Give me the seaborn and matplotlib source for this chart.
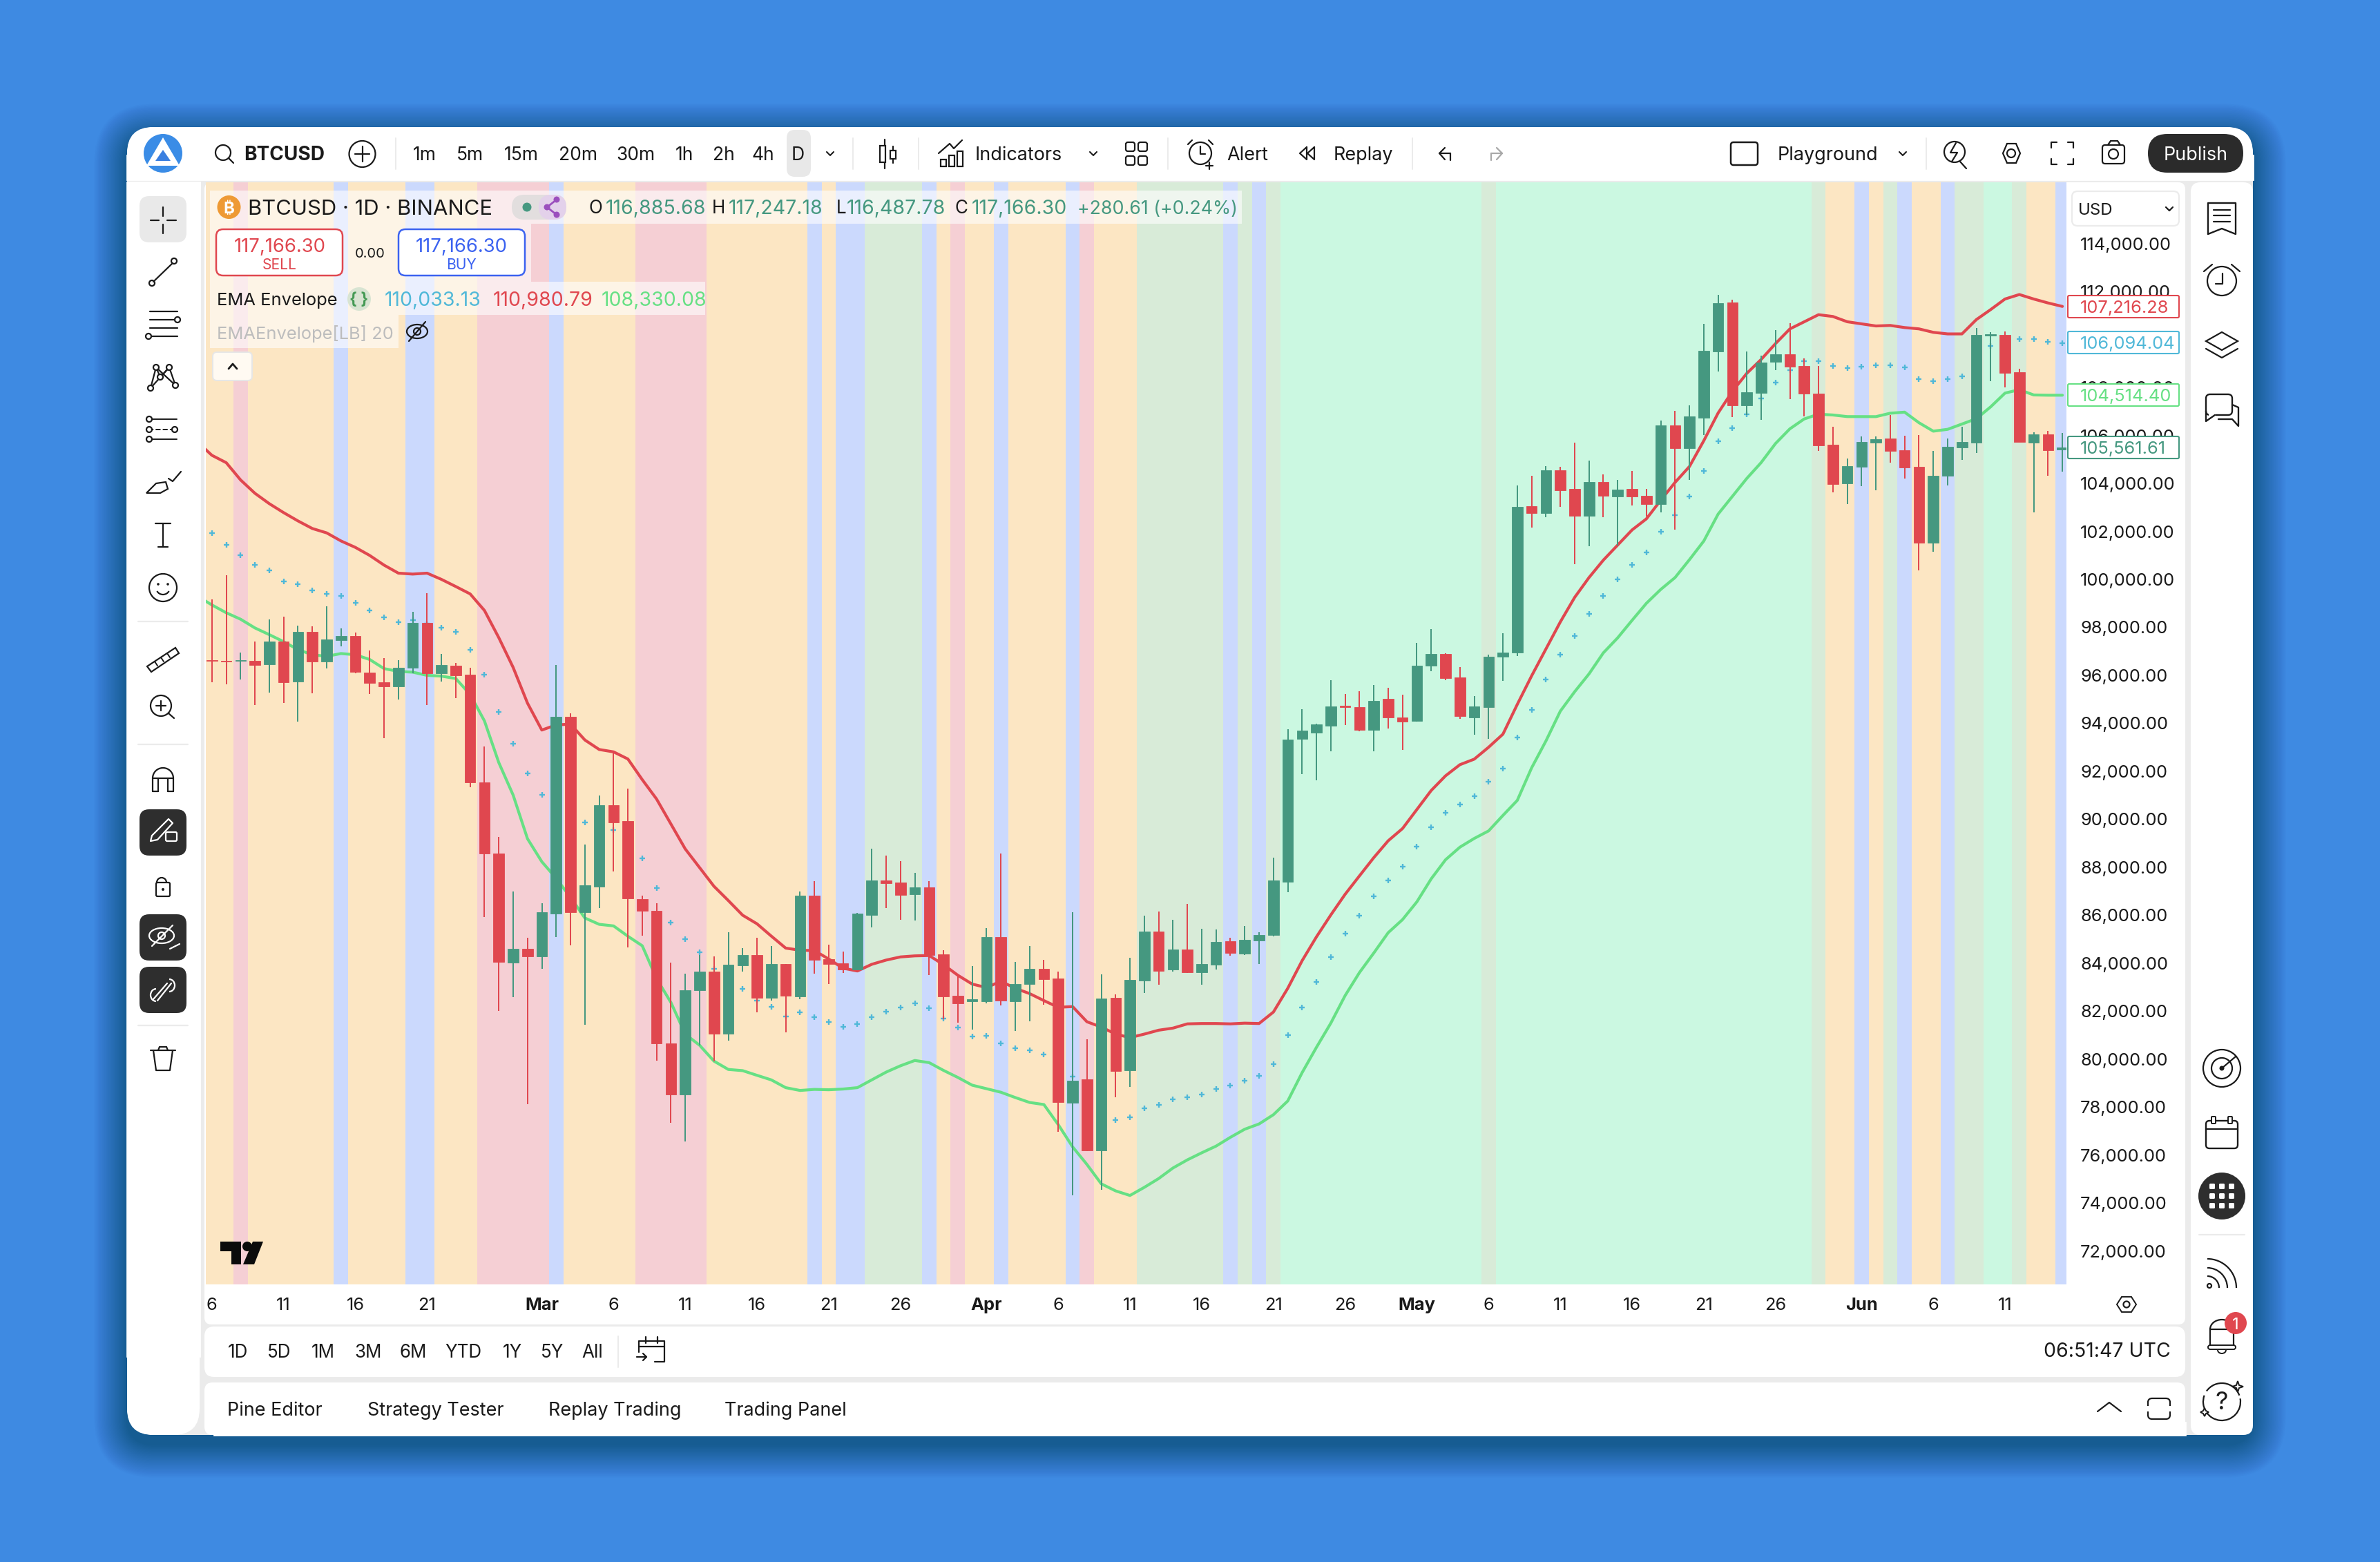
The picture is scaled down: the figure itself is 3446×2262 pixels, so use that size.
import numpy as np
import pandas as pd
import matplotlib
matplotlib.use("Agg")
import matplotlib.pyplot as plt
from matplotlib.patches import Circle, FancyBboxPatch, Rectangle, Polygon, Arc
import seaborn as sns

opens = [
 96626,96593,96593,96593,96460,97403,95733,97816,96576,97469,
 97634,96113,95700,95535,96312,98180,96080,96394,96031,91535,
 88559,84013,84592,84278,86063,94262,86112,87187,90576,89915,
 86658,86179,80641,78509,82856,83633,81055,83898,84332,82554,
 83965,82613,86815,84170,83994,83729,86006,87446,87358,86873,
 87152,84361,82642,82407,82407,85081,82407,83127,83759,83362,
 78177,79161,76193,82554,79528,83274,85316,83729,84567,83612,
 83935,84919,84391,84934,85169,87387,93351,93595,93893,94720,
 94670,93711,95017,94240,94091,96389,96885,95909,94240,94670,
 96769,96935,103050,102753,104538,103761,102637,104059,103447,103761,
 103480,103133,106423,105464,106737,109497,111547,107249,107778,109067,
 109382,108902,107745,105613,103993,104690,105693,105869,105385,104690,
 101516,104316,105494,105693,110167,110189,108636,105693,106046,105417]
closes = [
 96593,96560,96626,96427,97403,95700,97816,96576,97485,97634,
 96146,95684,95535,96312,98180,96080,96427,95998,91535,88559,
 84046,84592,84278,86112,94262,86112,87237,90576,89865,86691,
 86179,80641,78509,82856,83633,81055,83930,84327,82540,83965,
 82642,86815,84141,83965,83729,86065,87446,87329,86844,87152,
 84332,82613,82319,82496,85081,82437,83127,83759,83333,78206,
 79102,76193,82525,79499,83303,85316,83671,84567,83612,83965,
 84890,84420,84963,85169,87446,93322,93689,93943,94703,94686,
 93711,94934,94240,94058,96389,96885,95876,94290,94703,96769,
 96935,103017,102753,104538,103712,102637,104059,103480,103745,103447,
 103133,106423,105464,106786,109530,111514,107249,107795,109034,109382,
 108869,107745,105580,103976,104720,105726,105836,105351,104657,101516,
 104316,105528,105726,110189,110222,108602,105726,106035,105385,105494]
highs = [
 99171,100180,96940,97403,98328,98444,98064,98047,98874,97948,
 97783,97039,96708,96626,98642,99419,96890,96510,96312,93022,
 89253,86989,85055,86493,96427,94411,88939,90989,92824,91270,
 86807,86493,84013,83550,84327,84278,85286,84625,85052,84714,
 83965,86976,87417,84773,84479,86094,88768,88489,88254,87769,
 87417,84537,83494,83876,85463,88562,84053,84714,84141,83641,
 86124,80821,83524,82701,84214,85977,86153,85801,86462,85434,
 85404,85052,85551,85287,88401,93748,94585,93992,95794,95215,
 95347,95595,95480,95182,97348,97926,96918,96339,95132,96852,
 97744,103910,104307,104720,104687,105695,104951,104373,104142,104522,
 103761,106621,107018,107249,110654,111861,111646,109497,109332,110390,
 110687,109200,108902,106356,105034,105958,105958,106861,105980,106013,
 105351,105869,106354,110476,110300,110332,108779,106134,106178,106101]
lows = [
 95700,95617,95816,94758,95270,94840,94063,95254,96279,97204,
 96080,95221,93369,94989,96080,94758,95733,95039,91336,85914,
 82000,82575,78112,83749,85088,84741,81418,86294,87815,84641,
 85137,79930,77335,76558,80558,79897,80757,83633,81952,82437,
 81115,82496,83553,83127,83582,83700,85492,86300,85801,85771,
 83494,81658,81511,81232,82319,82231,81174,81570,82260,76981,
 74313,76150,74548,78411,78838,82760,83098,83641,83582,83098,
 83729,84302,84332,83965,85110,86961,91882,91612,92819,93926,
 93661,92819,93777,92884,94058,96157,95810,94174,93513,93347,
 95761,96802,102158,102588,103017,100620,101381,102588,101397,103084,
 102621,102786,102075,104142,106026,108671,106770,106852,106654,108720,
 107514,106786,105348,103629,103133,103886,103710,104867,104194,100381,
 101142,103908,104977,105263,108261,107996,105726,102784,104316,104491]
upper_ema = [
 105728,
 105172,104864,104145,103588,103156,102782,102436,102120,101937,101601,
 101333,100997,100594,100258,100220,100258,99999,99701,99394,98703,
 97568,96328,94840,93717,93931,93964,93303,92906,92807,92510,
 91650,90840,89799,88758,87981,87203,86609,85997,85639,85125,
 84626,84537,84523,84170,83788,83671,83950,84126,84258,84302,
 84317,83935,83494,83127,82980,83245,82951,82731,82437,82158,
 82187,81555,81335,81041,80894,81041,81203,81291,81467,81482,
 81482,81467,81497,81482,81960,82950,84100,85095,86007,86871,
 87639,88400,89100,89611,90405,91198,91810,92273,92504,93000,
 93546,94786,95976,97100,98224,99248,100075,100802,101430,102059,
 102522,103298,104042,104703,105778,106935,107844,108588,109167,109828,
 110440,110737,111034,110960,110740,110652,110564,110586,110498,110443,
 110299,110233,110233,110828,111247,111688,111875,111688,111523,111379]
lower_ema = [
 99298,
 98933,98607,98338,97974,97695,97403,97072,96857,96791,96907,
 96857,96659,96279,96163,96130,95998,95965,95865,95204,94097,
 92361,91006,89187,88228,87534,86741,85881,85617,85551,85121,
 84724,83352,82360,81038,80575,79914,79567,79517,79322,79131,
 78808,78691,78735,78720,78750,78808,79131,79455,79719,79940,
 79851,79528,79234,78911,78764,78617,78397,78191,78103,77266,
 76340,75606,74798,74504,74313,74651,75018,75459,75797,76091,
 76370,76737,77075,77295,77680,78253,79433,80489,81497,82648,
 83608,84424,85268,85815,86554,87514,88310,88834,89198,89512,
 90157,90785,92141,93265,94504,95315,96058,96935,97563,98290,
 99001,99579,100075,100819,101596,102720,103464,104208,104869,105662,
 106274,106687,106886,106853,106786,106784,106784,106927,106971,106531,
 106178,106255,106475,106696,107192,107765,107908,107688,107677,107677]
mid_ema = [
 101928,101438,101006,100603,100373,99912,99797,99538,99394,99308,
 99020,98703,98415,98214,98290,98147,97983,97811,97072,96031,
 94477,93155,91915,91022,90377,90129,89865,89716,89551,88972,
 88361,87137,85683,85005,84443,83766,83352,82922,82437,82172,
 81776,81952,81747,81541,81335,81453,81747,81982,82143,82319,
 82113,81702,81306,80938,80968,80659,80454,80366,80189,79712,
 79264,78580,78066,77457,77574,77942,78088,78324,78412,78529,
 78750,78896,79102,79293,79798,80997,82149,83214,84251,85230,
 85978,86784,87447,88022,88857,89661,90273,90603,90951,91562,
 92108,93397,94554,95827,96852,97645,98554,99314,99992,100604,
 101117,101993,102670,103447,104522,105761,106307,106869,107547,108208,
 108737,109084,109084,108889,108812,108867,108922,108922,108834,108349,
 108250,108349,108459,109175,109726,109947,110013,110013,109914,109837]
band_kinds = list("OPOBOBOPBOPOBOBGBOPOBOBPOGBGBGLGLGOBOGBOBGLGOB")
band_runs = [2,1,6,1,4,2,3,5,1,5,5,7,1,1,2,4,1,1,1,2,1,4,1,1,3,6,1,1,1,1,14,1,22,1,2,1,1,1,1,2,1,2,2,1,2,1]
date_pos = [0,5,10,15,23,28,33,38,43,48,54,59,64,69,74,79,84,89,94,99,104,109,115,120,125]
date_labels = ["6","11","16","21","Mar","6","11","16","21","26","Apr","6","11","16","21","26",
               "May","6","11","16","21","26","Jun","6","11"]
price_ticks = list(range(72000, 116000, 2000))
last_labels = [("107,216.28","RED"),("106,094.04","CYAN"),("104,514.40","LIME"),("105,561.61","TEAL")]
timeframes = ["1m","5m","15m","20m","30m","1h","2h","4h","D"]
ranges = ["1D","5D","1M","3M","6M","YTD","1Y","5Y","All"]
tabs = ["Pine Editor","Strategy Tester","Replay Trading","Trading Panel"]

sns.set_theme(style="white")
plt.rcParams["font.family"] = ["Inter", "DejaVu Sans"]
plt.rcParams["axes.unicode_minus"] = False

W, H = 3446, 2262
DPI = 200
BLUE_BG = "#3E8AE2"
RED, TEAL, LIME, CYAN = "#E0474F", "#459880", "#66E084", "#50B8D8"
INK = "#1A1A1A"
GAP = "#EBEBEB"
BAND = {"O": "#FCE6C3", "P": "#F5CFD4", "B": "#CBD9FD", "L": "#CBF8E1", "G": "#D8EBD8"}
NAMED = {"RED": RED, "CYAN": CYAN, "LIME": LIME, "TEAL": TEAL}
AXIS_PX = 25.5

fig = plt.figure(figsize=(W / DPI, H / DPI), dpi=DPI, facecolor=BLUE_BG)

def make_px_axes(z):
    a = fig.add_axes([0, 0, 1, 1], zorder=z)
    a.set_xlim(0, W); a.set_ylim(H, 0); a.axis("off")
    a.patch.set_alpha(0)
    return a

bg = make_px_axes(0)
ov = make_px_axes(5)

def R(a, x0, y0, x1, y1, r=0, fc="white", ec="none", lw=0.0, alpha=None, z=2):
    if r:
        p = FancyBboxPatch((x0 + r, y0 + r), x1 - x0 - 2 * r, y1 - y0 - 2 * r,
                           boxstyle=f"round,pad={r},rounding_size={r}", fc=fc, ec=ec, lw=lw, alpha=alpha, zorder=z)
    else:
        p = Rectangle((x0, y0), x1 - x0, y1 - y0, fc=fc, ec=ec, lw=lw, alpha=alpha, zorder=z)
    a.add_patch(p)

def T(x, y, s, px=24, c=INK, ha="left", weight="normal", **kw):
    ov.text(x, y + 0.3636 * px, s, fontsize=px * 0.36, color=c, ha=ha, va="baseline", fontweight=weight, zorder=6, **kw)

def L(xs, ys, c=INK, lw=0.8, z=6):
    ov.plot(xs, ys, color=c, lw=lw, solid_capstyle="round", solid_joinstyle="round", zorder=z)

def C(x, y, r, fc="none", ec=INK, lw=0.8, z=6):
    ov.add_patch(Circle((x, y), r, fc=fc, ec=ec, lw=lw, zorder=z))

# window and its shadow
for k in range(40):
    pad = 48 - 1.2 * k
    R(bg, 184 - pad, 184 - pad + 14, 3262 + pad, 2078 + pad + 14, r=40 + pad, fc="#000000", alpha=0.0065, z=1)
R(bg, 184, 184, 3262, 2078, r=40, fc=GAP, z=2)
R(bg, 184, 184, 3262, 260, r=38, fc="white", z=3)
bg.add_patch(Rectangle((184, 225), 3078, 35, fc="white", zorder=3))
bg.add_patch(Rectangle((184, 264), 105, 1700, fc="white", zorder=3))
R(bg, 184, 1900, 289, 2078, r=38, fc="white", z=3)
bg.add_patch(Rectangle((289 - 10, 264), 10, 8, fc="white", zorder=3))
R(bg, 296, 264, 3164, 1918, r=10, fc="white", z=3)
R(bg, 296, 1921, 3164, 1994, r=14, fc="white", z=3)
R(bg, 296, 2002, 3164, 2078, r=12, fc="white", z=3)
bg.add_patch(Rectangle((310, 2060), 2854, 18, fc="white", zorder=3))
R(bg, 3172, 264, 3262, 2078, r=14, fc="white", z=3)
R(bg, 3172, 2000, 3262, 2078, r=38, fc="white", z=4)

# chart
x_left, x_right = 298, 2992
y_top, y_bot = 264, 1860
ax = fig.add_axes([x_left / W, 1 - y_bot / H, (x_right - x_left) / W, (y_bot - y_top) / H], zorder=3)
spacing = 20.77
ax.set_xlim((x_left - 306.8) / spacing, (x_right - 306.8) / spacing)
scale = 28.79
ax.set_ylim(114000 - (y_bot - 352.7) * scale, 114000 + (352.7 - y_top) * scale)
for s in ax.spines.values():
    s.set_visible(False)
ax.set_facecolor(BAND["O"])

start = 0
for kind, run in zip(band_kinds, band_runs):
    ax.axvspan(start - 0.5, start + run - 0.5, color=BAND[kind], lw=0, zorder=1)
    start += run

idx = np.arange(len(opens))
line_idx = np.arange(-1, len(opens))
sns.lineplot(x=line_idx, y=upper_ema, color=RED, lw=1.5, ax=ax, zorder=3, errorbar=None, legend=False)
sns.lineplot(x=line_idx, y=lower_ema, color=LIME, lw=1.5, ax=ax, zorder=3, errorbar=None, legend=False)
sns.scatterplot(x=idx, y=mid_ema, marker="+", s=9, color=CYAN, linewidth=0.85, ax=ax, zorder=3, legend=False)

candles = pd.DataFrame({"x": idx, "o": opens, "h": highs, "l": lows, "c": closes})
candles["col"] = np.where(candles.c >= candles.o, TEAL, RED)
ax.vlines(candles.x, candles.l, candles.h, colors=candles.col, lw=0.72, zorder=4)
ax.bar(candles.x, (candles.c - candles.o).abs(), bottom=candles[["o", "c"]].min(axis=1), width=0.75,
       color=candles.col, edgecolor=candles.col, linewidth=0.3, zorder=5)

ax.set_xlabel(""); ax.set_ylabel("")
ax.set_xticks(date_pos)
ax.set_xticklabels(date_labels, fontsize=AXIS_PX * 0.36, color=INK)
for t, lab in zip(ax.get_xticklabels(), date_labels):
    if lab.isalpha():
        t.set_fontweight("bold")
ax.set_yticks(price_ticks)
ax.set_yticklabels([f"{v:,.2f}" for v in price_ticks], fontsize=AXIS_PX * 0.36, color=INK)
ax.yaxis.tick_right()
ax.tick_params(axis="x", length=0, pad=7)
ax.tick_params(axis="y", length=0, pad=7.2)
ax.grid(False)

# price labels on the axis
box_tops = [428, 480, 556, 632]
for (txt, cname), top in zip(last_labels, box_tops):
    col = NAMED[cname]
    R(ov, 2994, top, 3155, top + 32, r=2, fc="white", ec=col, lw=0.75)
    T(3012, top + 16, txt, AXIS_PX, col)

# USD selector
R(ov, 3000, 277, 3155, 327, r=8, fc="white", ec=GAP, lw=0.8)
T(3009, 302, "USD", 24)
L([3136, 3141, 3146], [300, 305, 300], lw=0.8)

# legend rows
for x0, y0, x1, y1 in [(304, 276, 1798, 324), (304, 324, 769, 408), (304, 408, 1021, 456), (304, 456, 577, 504)]:
    R(ov, x0, y0, x1, y1, fc="white", alpha=0.6, z=2)
C(331.5, 300, 17, fc="#EE9A35", ec="none")
T(331.5, 300, "₿", 24, "white", ha="center", weight="bold")
T(359, 300, "BTCUSD · 1D · BINANCE", 31)
R(ov, 741, 282, 820, 318, r=18, fc="#DADADA", alpha=0.75, z=3)
R(ov, 780, 282, 820, 318, r=18, fc="#E4D0EC", alpha=0.9, z=3)
C(763, 300, 6.5, fc=TEAL, ec="none")
L([806, 792, 806], [289, 300, 311], c="#9B4FBE", lw=1.0)
for px_, py_ in [(806, 289), (792, 300), (806, 311)]:
    C(px_, py_, 4.5, fc="#9B4FBE", ec="none")
ohlc_labels = [(853, "O", "116,885.68", 877), (1031, "H", "117,247.18", 1055), (1211, "L", "116,487.78", 1226), (1383, "C", "117,166.30", 1407)]
for lx, ls, vs, vx in ohlc_labels:
    T(lx, 300, ls, 26)
    T(vx, 300, vs, 28.5, TEAL)
T(1560, 300, "+280.61 (+0.24%)", 26.8, TEAL)

R(ov, 313, 332, 496, 399, r=10, fc="white", ec=RED, lw=0.9)
T(405, 355, "117,166.30", 27.5, RED, ha="center")
T(405, 382, "SELL", 21, RED, ha="center")
T(536, 366, "0.00", 20, ha="center")
R(ov, 577, 332, 760, 399, r=10, fc="white", ec="#3B62F0", lw=0.9)
T(668, 355, "117,166.30", 27.5, "#3B62F0", ha="center")
T(668, 382, "BUY", 21, "#3B62F0", ha="center")

T(314, 433, "EMA Envelope", 25.5)
C(520, 433, 17, fc="#D8E4D2", ec="none")
T(520, 433, "{ }", 23, "#459A55", ha="center", weight="bold")
T(557, 433, "110,033.13", 28.5, CYAN)
T(714, 433, "110,980.79", 28.5, RED)
T(871, 433, "108,330.08", 28.5, LIME)
T(314, 482, "EMAEnvelope[LB] 20", 25.5, "#BDBDBD")
ov.add_patch(Arc((604, 480), 30, 20, theta1=0, theta2=360, lw=0.8, ec=INK, zorder=6))
C(604, 480, 5, ec=INK)
L([592, 616], [494, 466])
R(ov, 308, 510, 365, 551, r=6, fc="#FFFAF2", ec="#E6E6E6", lw=0.7)
L([331, 337, 343], [534, 527, 534], lw=1.0)

# TV logo
ov.add_patch(Polygon([(319, 1798), (349, 1798), (349, 1831), (335, 1831), (335, 1812), (319, 1812)], fc="#0B0B0B", ec="none", zorder=6))
C(358, 1805, 7, fc="#0B0B0B", ec="none")
ov.add_patch(Polygon([(366, 1798), (381, 1798), (368, 1831), (352, 1831)], fc="#0B0B0B", ec="none", zorder=6))

# top bar
C(236, 222, 28, fc="#3A8CE6", ec="none")
ov.add_patch(Polygon([(236, 199), (260, 240), (212, 240)], fc="white", ec="none", zorder=7))
ov.add_patch(Polygon([(236, 217), (247, 233), (225, 233)], fc="#3A7FE0", ec="none", zorder=7))
C(323, 221, 11)
L([331, 338], [229, 236])
T(353, 222, "BTCUSD", 28, weight="bold")
C(524.5, 223, 19)
L([514, 535], [223, 223]); L([524.5, 524.5], [212, 234])
for sx in [573, 1235, 1330, 1691, 2045, 2789]:
    L([sx, sx], [200, 245], c=GAP, lw=0.7)
R(ov, 1139, 188, 1174, 256, r=12, fc="#E8E8E8", z=5)
for s, cx in zip(timeframes, [615, 680, 755, 837, 920, 991, 1048, 1105, 1155]):
    T(cx, 222, s, 26.5, ha="center")
for cx in [1202, 1583, 2755]:
    L([cx - 5, cx, cx + 5], [220, 225, 220], lw=0.75)
L([1281, 1281], [202, 244]); R(ov, 1274, 211, 1282, 235, fc="white", ec=INK, lw=0.8, z=6)
L([1293, 1293], [212, 236]); R(ov, 1289, 218, 1297, 230, fc="white", ec=INK, lw=0.8, z=6)
for bx, bh in [(1362, 10), (1374, 16), (1386, 22)]:
    R(ov, bx, 241 - bh, bx + 8, 241, fc="white", ec=INK, lw=0.8, z=6)
L([1359, 1375, 1381, 1393], [222, 208, 215, 203])
T(1412, 222, "Indicators", 27)
for gx in [1630, 1648]:
    for gy in [206, 226]:
        R(ov, gx, gy, gx + 13, gy + 13, r=3, fc="none", ec=INK, lw=0.8)
C(1738, 222, 16)
L([1738, 1738, 1745], [212, 223, 223])
L([1726, 1720], [203, 209]); L([1750, 1756], [203, 209]); L([1746, 1756], [240, 240]); L([1751, 1751], [235, 245])
T(1776, 222, "Alert", 27)
L([1892, 1882, 1892, 1892], [213, 222, 231, 213]); L([1903, 1893, 1903, 1903], [213, 222, 231, 213])
T(1931, 222, "Replay", 27)
L([2100, 2084, 2092], [222, 222, 214]); L([2084, 2092], [222, 231])
L([2100, 2100], [222, 232])
L([2159, 2175, 2167], [222, 222, 214], c="#A8A8A8"); L([2175, 2167], [222, 231], c="#A8A8A8"); L([2159, 2159], [222, 232], c="#A8A8A8")
R(ov, 2506, 206, 2545, 239, r=4, fc="none", ec=INK, lw=0.9)
T(2574, 222, "Playground", 27)
C(2830, 220, 15)
L([2832, 2824, 2834, 2826], [207, 221, 221, 234]); L([2838, 2847], [234, 244])
ov.add_patch(Polygon([(2900, 222), (2906, 208), (2919, 208), (2925, 222), (2919, 236), (2906, 236)], fc="none", ec=INK, lw=0.8, zorder=6))
C(2912, 222, 6)
for sx_, sy_ in [(-1, -1), (1, -1), (-1, 1), (1, 1)]:
    cx_, cy_ = 2986 + sx_ * 16, 222 + sy_ * 16
    L([cx_, cx_, cx_ - sx_ * 8], [cy_ + -sy_ * 8, cy_, cy_])
R(ov, 3044, 210, 3076, 237, r=4, fc="none", ec=INK, lw=0.8)
L([3052, 3056, 3066, 3070], [210, 204, 204, 210]); C(3060, 223, 7)
R(ov, 3110, 194, 3248, 250, r=28, fc="#2B2B2B")
T(3179, 222, "Publish", 27, "white", ha="center")

# left toolbar
cx = 236
R(ov, 202, 284, 270, 351, r=14, fc="#E9E9E9")
L([236, 236], [300, 313]); L([236, 236], [325, 338]); L([218, 230], [319, 319]); L([242, 255], [319, 319])
L([222, 250], [408, 381]); C(220, 410, 4); C(252, 378, 4)
for yy in [451, 463, 475, 487]:
    L([217, 257], [yy, yy])
C(257, 463, 4, fc="white"); C(215, 487, 4, fc="white")
pts = [(218, 562), (226, 532), (232, 546), (245, 532), (254, 558)]
L([p[0] for p in pts], [p[1] for p in pts]); L([226, 254], [532, 558]); L([245, 218], [532, 562])
for p in pts:
    C(p[0], p[1], 4, fc="white")
for yy, st in [(607, "-"), (622, "--"), (636, "-")]:
    ov.plot([215, 256], [yy, yy], color=INK, lw=0.7, ls=st, zorder=6)
for px_, py_ in [(216, 607), (216, 622), (216, 636), (253, 622)]:
    C(px_, py_, 4, fc="white")
ov.add_patch(Polygon([(212, 714), (226, 700), (240, 698), (243, 708), (232, 714)], fc="none", ec=INK, lw=0.8, zorder=6))
L([244, 250, 262], [693, 697, 683])
L([225, 247], [758, 758]); L([236, 236], [758, 792]); L([229, 243], [792, 792])
C(236, 851, 20); C(229, 846, 1.8, fc=INK, ec="none"); C(243, 846, 1.8, fc=INK, ec="none")
ov.add_patch(Arc((236, 851), 20, 20, theta1=30, theta2=150, ec=INK, lw=0.8, zorder=6))
for yy in [900, 1078, 1485]:
    L([200, 272], [yy, yy], c=GAP, lw=0.8)
ov.add_patch(Polygon([(213, 965), (254, 938), (259, 946), (219, 973)], fc="none", ec=INK, lw=0.8, zorder=6))
for tx_, ty_ in [(224, 958), (233, 952), (242, 946)]:
    L([tx_, tx_ + 4], [ty_, ty_ + 6], lw=0.7)
C(233, 1022, 15); L([226, 240], [1022, 1022]); L([233, 233], [1015, 1029]); L([244, 252], [1033, 1040])
L([221, 221, 251, 251], [1146, 1127, 1127, 1146]); ov.add_patch(Arc((236, 1127), 30, 30, theta1=180, theta2=360, ec=INK, lw=0.8, zorder=6))
L([229, 229], [1146, 1128]); L([243, 243], [1146, 1128]); L([221, 229], [1146, 1146]); L([243, 251], [1146, 1146])
for top, bot in [(1172, 1239), (1324, 1391), (1400, 1467)]:
    R(ov, 202, top, 270, bot, r=14, fc="#2E2E2E")
L([220, 244, 250, 228, 218, 220], [1210, 1186, 1192, 1216, 1218, 1210], c="white")
R(ov, 240, 1205, 256, 1218, r=2, fc="none", ec="white", lw=0.8)
R(ov, 226, 1278, 246, 1298, r=2, fc="none", ec=INK, lw=0.8)
ov.add_patch(Arc((234, 1278), 14, 14, theta1=180, theta2=360, ec=INK, lw=0.8, zorder=6))
C(236, 1288, 2, fc=INK, ec="none")
ov.add_patch(Arc((234, 1355), 36, 22, theta1=0, theta2=360, ec="white", lw=0.8, zorder=6))
C(234, 1355, 5, ec="white"); L([220, 250], [1370, 1340], c="white")
L([246, 260], [1374, 1367], c="white")
L([222, 242], [1447, 1424], c="white"); L([228, 248], [1449, 1424], c="white")
ov.add_patch(Arc((226, 1441), 16, 18, theta1=90, theta2=270, ec="white", lw=0.8, zorder=6))
ov.add_patch(Arc((245, 1427), 16, 18, theta1=270, theta2=90, ec="white", lw=0.8, zorder=6))
L([218, 254], [1521, 1521]); L([222, 226, 246, 250], [1521, 1550, 1550, 1521]); L([229, 231, 241, 243], [1521, 1516, 1516, 1521])

# date axis gear, time ranges, tabs
ov.add_patch(Polygon([(3065, 1889), (3072, 1878), (3086, 1878), (3093, 1889), (3086, 1900), (3072, 1900)], fc="none", ec=INK, lw=0.7, zorder=6))
C(3079, 1889, 4.5)
for s, cx_ in zip(ranges, [344, 404, 468, 533, 598, 671, 742, 800, 858]):
    T(cx_, 1957, s, 26, ha="center")
L([895, 895], [1935, 1980], c=GAP, lw=0.7)
L([925, 925, 962, 962, 948], [1958, 1942, 1942, 1972, 1972]); L([925, 962], [1950, 1950])
L([935, 935], [1936, 1945]); L([952, 952], [1936, 1945]); L([922, 936], [1965, 1965]); L([931, 936, 931], [1960, 1965, 1970])
T(3143, 1955, "06:51:47 UTC", 28.5, ha="right")
for s, tx in zip(tabs, [329, 532, 794, 1049]):
    T(tx, 2040, s, 27)
L([3037, 3054, 3071], [2044, 2031, 2044], lw=0.8)
R(ov, 3110, 2025, 3142, 2055, r=6, fc="none", ec=INK, lw=0.8)
R(ov, 3105, 2036, 3147, 2044, fc="white", z=6)

# right toolbar
rx = 3217
L([rx - 20, rx - 20, rx + 20, rx + 20, rx, rx - 20], [339, 294, 294, 339, 331, 339], lw=0.85)
for yy in [304, 312, 321]:
    L([rx - 12, rx + 12], [yy, yy], lw=0.8)
C(rx, 407, 21); L([rx + 1, rx + 1, rx - 9], [396, 411, 411]); L([rx - 26, rx - 14], [393, 383]); L([rx + 14, rx + 26], [383, 393])
ov.add_patch(Polygon([(rx - 23, 494), (rx, 481), (rx + 23, 494), (rx, 507)], fc="none", ec=INK, lw=0.8, zorder=6))
L([rx - 23, rx, rx + 23], [505, 518, 505])
R(ov, rx - 23, 571, rx + 15, 601, r=6, fc="none", ec=INK, lw=0.85)
R(ov, rx - 19, 597, rx - 9, 608, fc="white", z=6)
L([rx - 23, rx - 23, rx - 10], [595, 610, 601], lw=0.85)
L([rx + 15, rx + 24, rx + 24, rx + 15, rx - 5], [586, 590, 617, 607, 607], lw=0.85)
C(rx, 1547, 27); C(rx, 1547, 15); C(rx, 1547, 3.5, fc=INK, ec="none"); L([rx, rx + 20], [1547, 1530])
R(ov, rx - 23, 1623, rx + 23, 1663, r=5, fc="none", ec=INK, lw=0.85)
L([rx - 23, rx + 23], [1635, 1635]); R(ov, rx - 15, 1617, rx - 9, 1627, r=1, fc="white", ec=INK, lw=0.7); R(ov, rx + 9, 1617, rx + 15, 1627, r=1, fc="white", ec=INK, lw=0.7)
C(rx, 1732, 34, fc="#2E2E2E", ec="none")
for dx in [-14, 0, 14]:
    for dy in [-14, 0, 14]:
        R(ov, rx + dx - 4, 1732 + dy - 4, rx + dx + 4, 1732 + dy + 4, r=1.5, fc="white", z=7)
L([3184, 3250], [1788, 1788], c=GAP, lw=0.8)
C(rx - 18, 1862, 3)
for rad in [17, 29, 42]:
    ov.add_patch(Arc((rx - 21, 1865), 2 * rad, 2 * rad, theta1=270, theta2=360, ec=INK, lw=0.8, zorder=6))
L([rx - 17, rx - 17, rx + 17, rx + 17], [1948, 1925, 1925, 1948])
ov.add_patch(Arc((rx, 1925), 34, 28, theta1=180, theta2=360, ec=INK, lw=0.8, zorder=6))
R(ov, rx - 20, 1948, rx + 20, 1954, r=3, fc="white", ec=INK, lw=0.7)
ov.add_patch(Arc((rx, 1955), 12, 10, theta1=0, theta2=180, ec=INK, lw=0.7, zorder=6))
C(3237, 1916, 16, fc=RED, ec="none", z=7)
ov.text(3237, 1925, "1", fontsize=24 * 0.36, color="white", ha="center", va="baseline", zorder=8)
ov.add_patch(Arc((rx, 2030), 54, 54, theta1=-10, theta2=200, ec=INK, lw=0.8, zorder=6))
ov.add_patch(Arc((rx, 2030), 54, 54, theta1=215, theta2=340, ec=INK, lw=0.8, zorder=6))
T(rx, 2028, "?", 36, ha="center")
for sx_, sy_, rr in [(rx + 23, 2008, 8), (rx - 25, 2045, 6)]:
    ov.add_patch(Polygon([(sx_, sy_ - rr), (sx_ + 2, sy_ - 2), (sx_ + rr, sy_), (sx_ + 2, sy_ + 2), (sx_, sy_ + rr), (sx_ - 2, sy_ + 2), (sx_ - rr, sy_), (sx_ - 2, sy_ - 2)], fc="white", ec=INK, lw=0.7, zorder=7))

fig.savefig("out.png", dpi=DPI, facecolor=BLUE_BG)
